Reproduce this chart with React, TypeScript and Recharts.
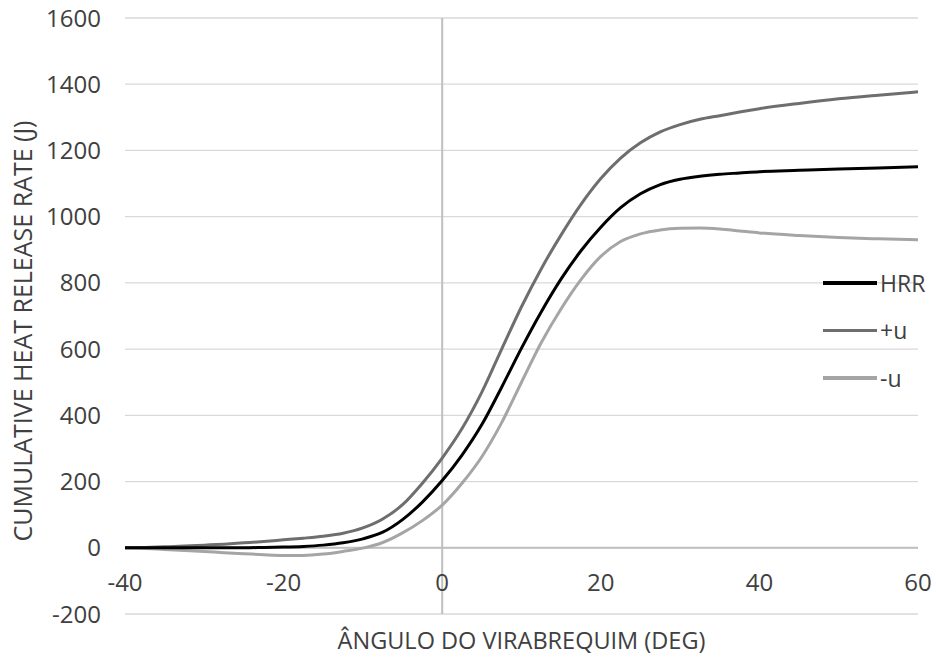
import React from "react";
import { LineChart, Line, XAxis, YAxis, CartesianGrid, ReferenceLine } from "recharts";

const angles = [-40, -37.5, -35, -32.5, -30, -27.5, -25, -22.5, -20, -17.5, -15, -12.5, -10, -7.5, -5, -2.5, 0, 2.5, 5, 7.5, 10, 12.5, 15, 17.5, 20, 22.5, 25, 27.5, 30, 32.5, 35, 37.5, 40, 45, 50, 55, 60];
const hrr = [0, 0, 0, 0, 0, 0, 0, 1, 2, 4, 8, 15, 27, 47, 85, 138, 203, 280, 372, 485, 603, 713, 812, 897, 968, 1027, 1069, 1097, 1113, 1122, 1128, 1132, 1136, 1140, 1144, 1147, 1151];
const plusU = [0, 1, 3, 5, 8, 11, 15, 19, 24, 29, 35, 44, 60, 87, 130, 195, 271, 360, 470, 600, 728, 843, 945, 1037, 1115, 1177, 1223, 1256, 1278, 1294, 1305, 1316, 1326, 1342, 1356, 1367, 1377];
const minusU = [0, -2, -5, -8, -11, -15, -18, -21, -23, -23, -19, -11, -1, 16, 45, 82, 129, 195, 275, 378, 500, 620, 722, 810, 880, 925, 948, 960, 965, 966, 963, 957, 951, 943, 937, 933, 930];

const xTicks = [-40, -20, 0, 20, 40, 60];
const yTicks = [-200, 0, 200, 400, 600, 800, 1000, 1200, 1400, 1600];
const seriesNames = ["HRR", "+u", "-u"];
const seriesColors = ["#000000", "#6e6e6e", "#a5a5a5"];
const xTitle = "ÂNGULO DO VIRABREQUIM (DEG)";
const yTitle = "CUMULATIVE HEAT RELEASE RATE (J)";

const data = angles.map((a, i) => ({ angle: a, hrr: hrr[i], plus: plusU[i], minus: minusU[i] }));

const FONT = "'Open Sans', sans-serif";
const TEXT = "#404040";

const XTick = (props: any) => {
  const { x, y, payload } = props;
  return (
    <text x={x} y={y - 41} textAnchor="middle" dominantBaseline="central" fill={TEXT} fontSize={24} fontFamily={FONT}>
      {payload.value}
    </text>
  );
};

export default function App() {
  return (
    <div style={{ position: "fixed", left: 0, top: 0, width: 936, height: 659, background: "#ffffff" }}>
      <LineChart width={936} height={659} data={data} margin={{ top: 18, right: 18, left: 0, bottom: 0 }}>
        <CartesianGrid vertical={false} stroke="#d9d9d9" strokeWidth={1.3} />
        <XAxis
          dataKey="angle"
          type="number"
          domain={[-40, 60]}
          ticks={xTicks}
          axisLine={false}
          tickLine={false}
          height={45}
          tick={<XTick />}
          label={{
            content: (p: any) => {
              const vb = p.viewBox || {};
              return (
                <text x={vb.x + vb.width / 2} y={vb.y + 26} textAnchor="middle" dominantBaseline="central" fill={TEXT} fontSize={23.5} fontFamily={FONT}>
                  {xTitle}
                </text>
              );
            },
          }}
        />
        <YAxis
          type="number"
          domain={[-200, 1600]}
          ticks={yTicks}
          axisLine={false}
          tickLine={false}
          width={125}
          tickMargin={18}
          tick={{ fill: TEXT, fontSize: 24, fontFamily: FONT }}
          label={{
            content: (p: any) => {
              const vb = p.viewBox || {};
              const cx = vb.x + 22;
              const cy = vb.y + vb.height / 2 + 15;
              return (
                <text x={cx} y={cy} transform={`rotate(-90 ${cx} ${cy})`} textAnchor="middle" dominantBaseline="central" fill={TEXT} fontSize={25} fontFamily={FONT}>
                  {yTitle}
                </text>
              );
            },
          }}
        />
        <ReferenceLine y={0} stroke="#bfbfbf" strokeWidth={2} />
        <ReferenceLine x={0} stroke="#bfbfbf" strokeWidth={2} />
        <Line type="monotone" dataKey="minus" name={seriesNames[2]} stroke={seriesColors[2]} strokeWidth={3} dot={false} isAnimationActive={false} />
        <Line type="monotone" dataKey="plus" name={seriesNames[1]} stroke={seriesColors[1]} strokeWidth={3} dot={false} isAnimationActive={false} />
        <Line type="monotone" dataKey="hrr" name={seriesNames[0]} stroke={seriesColors[0]} strokeWidth={3} dot={false} isAnimationActive={false} />
      </LineChart>
      <div style={{ position: "absolute", left: 823, top: 259, fontFamily: FONT, fontSize: 23, color: TEXT }}>
        {seriesNames.map((n, i) => (
          <div key={n} style={{ display: "flex", alignItems: "center", height: 47.5 }}>
            <div style={{ width: 54, height: 3.5, background: seriesColors[i], marginRight: 3 }} />
            <span>{n}</span>
          </div>
        ))}
      </div>
    </div>
  );
}
